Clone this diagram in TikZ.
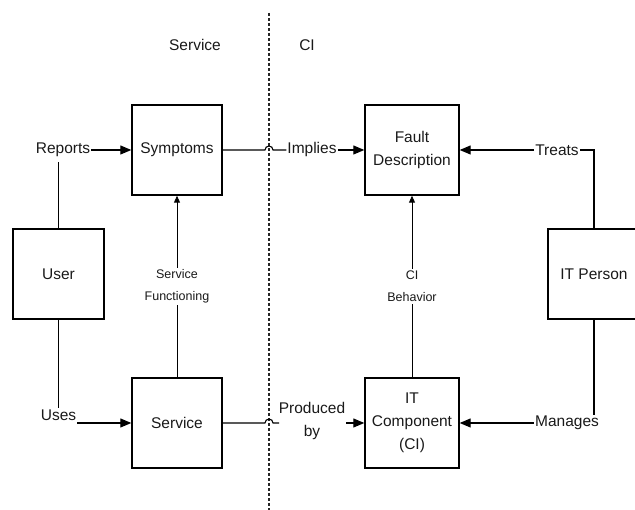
\documentclass[tikz,border=0pt]{standalone}
\usepackage{fontspec}
\setmainfont{Liberation Sans}
\usetikzlibrary{arrows.meta,calc}
\begin{document}
\begin{tikzpicture}[x=1pt,y=1pt,
  txt/.style={text=black!90, font=\fontsize{15.5}{23}\selectfont, align=center},
  small/.style={text=black!90, font=\fontsize{12.5}{22}\selectfont, align=center},
  entity/.style={draw=black, line width=1.4pt, minimum height=90pt, txt, inner sep=0pt},
  lab/.style={txt, inner sep=1pt},
  link/.style={draw=black, line width=1.1pt},
  arr/.style={link, -{Triangle[length=11pt,width=9pt]}},
  thinarr/.style={draw=black, line width=0.9pt, -{Triangle[length=7pt,width=6pt]}}
]
\useasboundingbox (0,0) rectangle (635,510);

% boundary between the Service and CI sides
\draw[black!85, line width=1.1pt, dash pattern=on 3pt off 2pt] (269,497) -- (269,0);
\node[lab] (svcside) at (195,465) {Service};
\node[lab] (ciside) at (307,465) {CI};

% entities
\node[entity, minimum width=90pt] (symp) at (177,360) {Symptoms};
\node[entity, minimum width=94pt] (fault) at (412,360) {Fault\\Description};
\node[entity, minimum width=91pt] (user) at (58.5,236) {User};
\node[entity, minimum width=92pt] (itp) at (594,236) {IT Person};
\node[entity, minimum width=90pt] (serv) at (177,87) {Service};
\node[entity, minimum width=94pt] (itc) at (412,87) {IT\\Component\\(CI)};

% relation labels
\node[lab] (reports) at (63,360) {Reports};
\node[lab] (uses) at (58.5,95) {Uses};
\coordinate (usesend) at (77,87);
\node[lab] (implies) at (312,360) {Implies};
\node[lab] (treats) at (557,360) {Treats};
\node[lab] (manages) at (567,87) {Manages};
\node[lab] (prod) at (312,89) {Produced\\by};

% user relations
\draw[link] (user.north) -- (user.north |- 0,348);
\draw[arr] (reports.east) -- (symp.west |- reports.east);
\draw[link] (user.south) -- (user.south |- uses.north);
\draw[arr] (usesend) -- (serv.west |- usesend);

% crossings of the boundary, with line hops
\draw[link] (symp.east) -- (265,360) arc (180:0:4) -- (implies.west);
\draw[arr] (implies.east) -- (fault.west |- implies.east);
\draw[link] (serv.east) -- (265,87) arc (180:0:4) -- (279,87);
\draw[arr] (prod.east |- 0,87) -- (itc.west);

% IT person relations
\draw[arr] (treats.west) -- (fault.east |- treats.west);
\draw[link] (treats.east) -- (itp.north |- treats.east) -- (itp.north);
\draw[link] (itp.south) -- (itp.south |- manages.north);
\draw[arr] (manages.west) -- (itc.east |- manages.west);

% vertical relations
\draw[thinarr] (serv.north) -- node[small, fill=white, inner sep=2pt] (sf) {Service\\Functioning} (symp.south);
\draw[thinarr] (itc.north) -- node[small, fill=white, inner sep=2pt] (cib) {CI\\Behavior} (fault.south);
\end{tikzpicture}
\end{document}
